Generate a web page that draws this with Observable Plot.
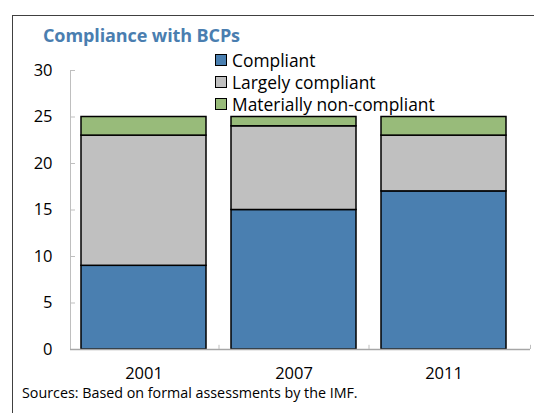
<!DOCTYPE html>
<html>
<head>
<meta charset="utf-8">
<script src="https://cdn.jsdelivr.net/npm/d3@7"></script>
<script src="https://cdn.jsdelivr.net/npm/@observablehq/plot@0.6"></script>
<style>
  html, body { margin: 0; padding: 0; background: #fff; }
  body { font-family: "Open Sans", sans-serif; }
  #wrap { position: relative; width: 534px; height: 413px; overflow: hidden; }
  #frame { position: absolute; left: 12px; top: 15px; right: -2px; bottom: -2px; border-left: 1px solid #404040; border-top: 1px solid #404040; }
  #chart { position: absolute; left: 0; top: 0; }
  #title { position: absolute; left: 43px; top: 23px; font-size: 18px; font-weight: 700; color: #4a7eb0; letter-spacing: -0.1px; white-space: nowrap; }
  #legend { position: absolute; left: 215px; top: 49px; font-size: 17.4px; color: #000; }
  .row { display: flex; align-items: center; height: 22px; white-space: nowrap; }
  .sw { width: 10px; height: 10px; border: 1px solid #000; margin-right: 5px; }
  #source { position: absolute; left: 22px; top: 383px; font-size: 14.3px; color: #000; white-space: nowrap; }
</style>
</head>
<body>
<div id="wrap">
  <div id="frame"></div>
  <div id="chart"></div>
  <div id="title">Compliance with BCPs</div>
  <div id="legend"></div>
  <div id="source">Sources: Based on formal assessments by the IMF.</div>
</div>
<script>
const years = ["2001", "2007", "2011"];
const seriesNames = ["Compliant", "Largely compliant", "Materially non-compliant"];
const compliant = [9, 15, 17];
const largelyCompliant = [14, 9, 6];
const materiallyNonCompliant = [2, 1, 2];
const colors = ["#4a7fb0", "#c0c0c0", "#98bb7a"];
const yTicks = [0, 5, 10, 15, 20, 25, 30];

const seriesValues = [compliant, largelyCompliant, materiallyNonCompliant];
const data = [];
seriesNames.forEach((s, si) => {
  years.forEach((yr, i) => data.push({year: yr, series: s, value: seriesValues[si][i]}));
});

const chart = Plot.plot({
  width: 534,
  height: 413,
  marginLeft: 70,
  marginRight: 4,
  marginTop: 70,
  marginBottom: 64,
  style: {fontFamily: "'Open Sans', sans-serif", fontSize: "16px", color: "#000", background: "transparent"},
  x: {type: "band", domain: years, range: [68.5, 518.5], paddingInner: 1/6, paddingOuter: 1/12, label: null},
  y: {domain: [0, 30], label: null},
  color: {domain: seriesNames, range: colors},
  marks: [
    Plot.barY(data, Plot.stackY({x: "year", y: "value", fill: "series", order: seriesNames, stroke: "#000", strokeWidth: 1.5})),
    Plot.frame({anchor: "left", stroke: "#bfbfbf"}),
    Plot.axisY({ticks: yTicks, tickSize: 5, dx: 5, text: null, stroke: "#bfbfbf", label: null}),
    Plot.axisY({ticks: yTicks, tickSize: 0, tickPadding: 18, fontSize: 16.5, label: null}),
    Plot.ruleY([0], {stroke: "#a6a6a6", strokeWidth: 1.5}),
    Plot.ruleX(years.slice(0, 2), {x: d => d, dx: 75, y1: 0, y2: 0.45, stroke: "#bfbfbf"}),
    Plot.ruleX(years.slice(2), {x: d => d, dx: 86.5, y1: 0, y2: 0.45, stroke: "#bfbfbf"}),
    Plot.axisX({tickSize: 0, tickPadding: 18, fontSize: 16.5, label: null})
  ]
});
document.getElementById("chart").appendChild(chart);

const legend = document.getElementById("legend");
seriesNames.forEach((s, i) => {
  const row = document.createElement("div");
  row.className = "row";
  const sw = document.createElement("span");
  sw.className = "sw";
  sw.style.background = colors[i];
  const t = document.createElement("span");
  t.textContent = s;
  row.appendChild(sw);
  row.appendChild(t);
  legend.appendChild(row);
});
</script>
</body>
</html>
